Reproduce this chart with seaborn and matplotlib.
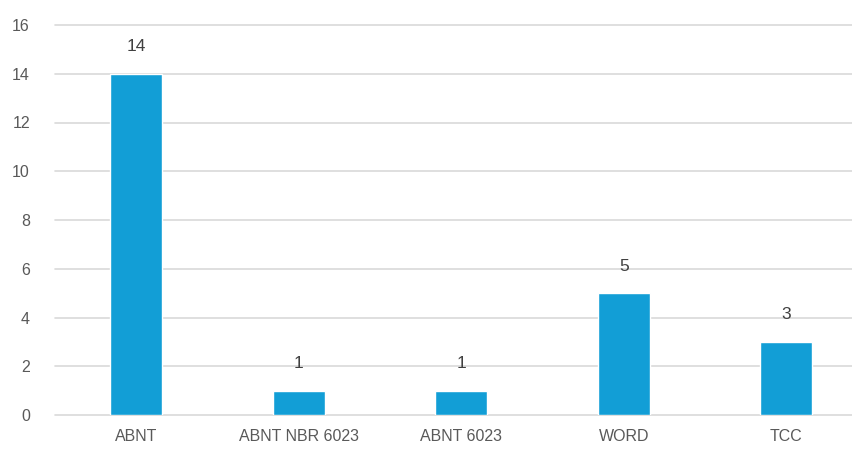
import pandas as pd
import matplotlib.pyplot as plt
import seaborn as sns

# data
categories = ["ABNT", "ABNT NBR 6023", "ABNT 6023", "WORD", "TCC"]
counts = [14, 1, 1, 5, 3]

df = pd.DataFrame({"Categoria": categories, "Quantidade": counts})

sns.set_style("white")
plt.rcParams['font.family'] = ['Liberation Sans', 'DejaVu Sans']

fig = plt.figure(figsize=(8.53, 4.5), dpi=100)
ax = fig.add_axes([55 / 853, 1 - 415 / 450, 1 - 55 / 853, (415 - 25) / 450])

sns.barplot(data=df, x="Categoria", y="Quantidade", order=categories,
            color="#129ED6", saturation=1, width=0.32, ax=ax, zorder=3)

ax.set_ylim(0, 16)
ax.set_xlim(-0.5, 4.41)
ax.set_yticks(range(0, 17, 2))
ax.yaxis.grid(True, color="#D9D9D9", linewidth=1.2, zorder=0)
for gl in ax.get_ygridlines():
    gl.set_clip_on(False)
ax.set_axisbelow(True)
for s in ax.spines.values():
    s.set_visible(False)
ax.tick_params(axis="both", length=0, colors="#595959", labelsize=11.5)
ax.tick_params(axis="y", pad=18)
ax.tick_params(axis="x", pad=10)
ax.set_xlabel("")
ax.set_ylabel("")

# value labels
for container in ax.containers:
    ax.bar_label(container, padding=14, color="#404040", fontsize=12.5)

fig.savefig("out.png", dpi=100)
